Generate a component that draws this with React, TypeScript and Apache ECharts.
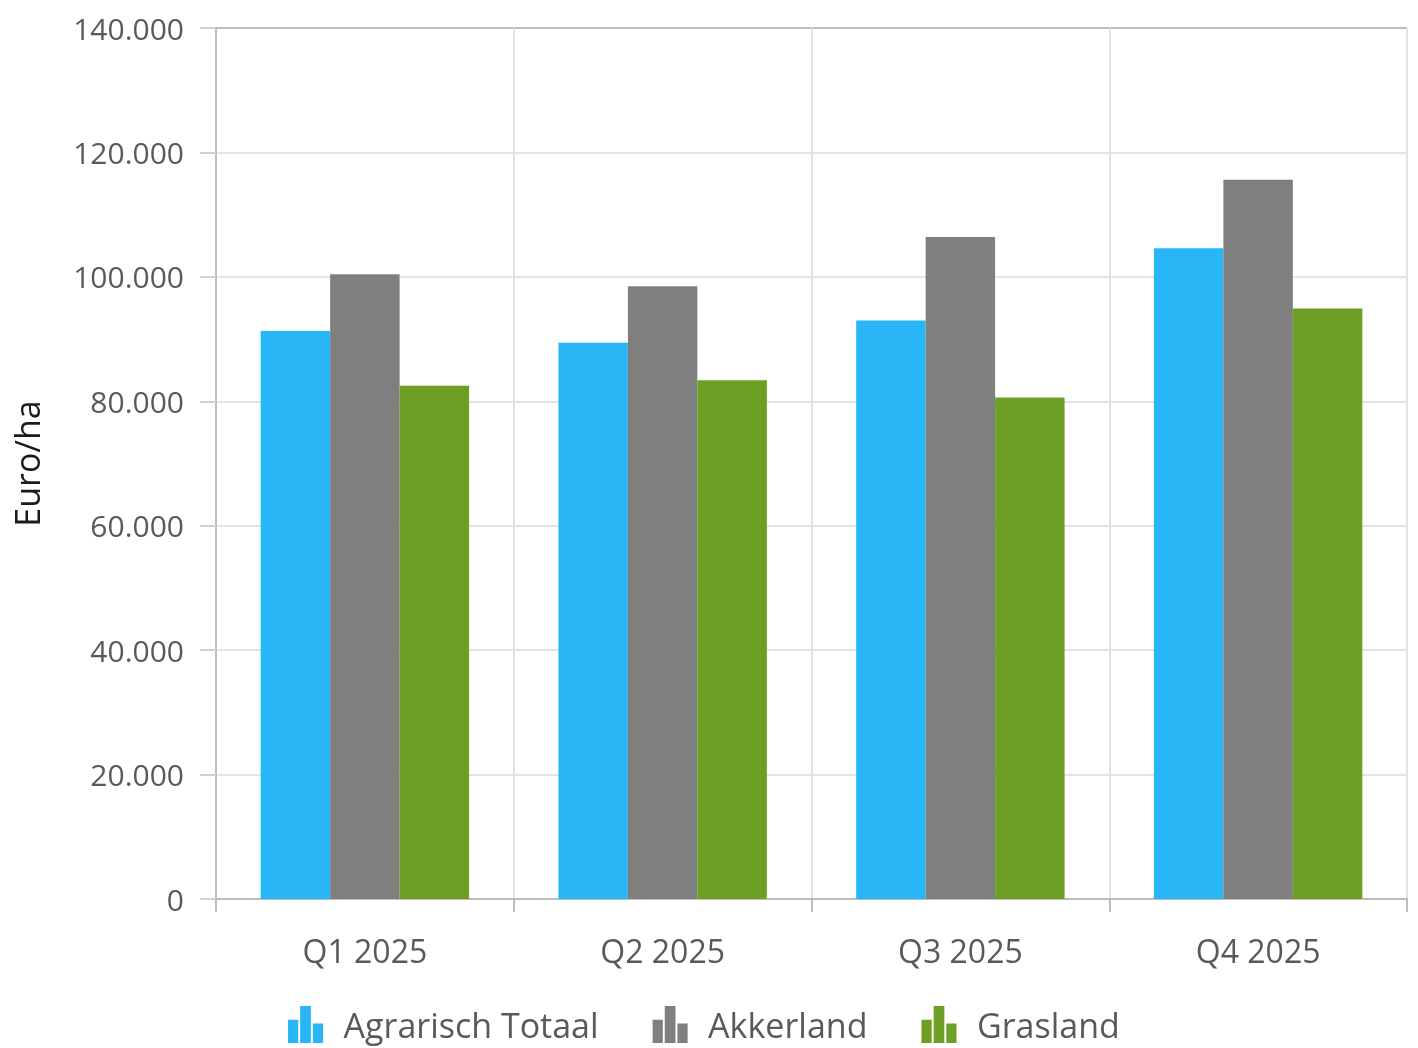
import React, { useEffect, useRef } from "react";
import * as echarts from "echarts";

const categories = ["Q1 2025", "Q2 2025", "Q3 2025", "Q4 2025"];
const seriesNames = ["Agrarisch Totaal", "Akkerland", "Grasland"];
const agrarischTotaal = [91300, 89400, 93000, 104600];
const akkerland = [100400, 98500, 106400, 115600];
const grasland = [82500, 83400, 80600, 94900];
const colors = ["#29B6F6", "#7F7F7F", "#6C9F23"];

const fmt = (v: number) => String(Math.round(v)).replace(/\B(?=(\d{3})+(?!\d))/g, ".");

const icon = "path://M0,14h10.5v24h-10.5z M12.5,0h11v38h-11z M25.5,18h10.5v20h-10.5z";

export default function App() {
  const ref = useRef<HTMLDivElement>(null);
  useEffect(() => {
    if (!ref.current) return;
    const chart = echarts.init(ref.current, null, { renderer: "svg" });
    const font = "'Open Sans', 'Noto Sans', sans-serif";
    const data = [agrarischTotaal, akkerland, grasland];
    chart.setOption({
      animation: false,
      textStyle: { fontFamily: font },
      grid: { left: 216, right: 11, top: 28, bottom: 149, containLabel: false, outerBoundsMode: "none" },
      legend: {
        left: 283,
        bottom: 0,
        itemWidth: 36,
        itemHeight: 37,
        itemGap: 54,
        icon,
        textStyle: { fontSize: 34, color: "#595959", fontFamily: font, padding: [0, 0, 0, 15] },
        data: seriesNames,
      },
      xAxis: {
        type: "category",
        data: categories,
        axisLine: { lineStyle: { color: "#bdbdbd", width: 2 } },
        axisTick: { show: true, length: 13, lineStyle: { color: "#bdbdbd", width: 2 } },
        axisLabel: { fontSize: 32, color: "#595959", margin: 35, fontFamily: font },
        splitLine: { show: true, lineStyle: { color: "#e3e3e3", width: 2 } },
      },
      yAxis: {
        type: "value",
        min: 0,
        max: 140000,
        interval: 20000,
        name: "Euro/ha",
        nameLocation: "middle",
        nameGap: 172,
        nameTextStyle: { fontSize: 34, color: "#1a1a1a", fontFamily: font },
        axisLine: { show: true, lineStyle: { color: "#bdbdbd", width: 2 } },
        axisTick: { show: true, length: 16, lineStyle: { color: "#d0d0d0", width: 2 } },
        axisLabel: { fontSize: 30, color: "#595959", margin: 32, formatter: fmt, fontFamily: font },
        splitLine: {
          show: true,
          lineStyle: {
            color: ["#e3e3e3", "#e3e3e3", "#e3e3e3", "#e3e3e3", "#e3e3e3", "#e3e3e3", "#e3e3e3", "#bdbdbd"],
            width: 2,
          },
        },
      },
      series: seriesNames.map((name, i) => ({
        name,
        type: "bar",
        data: data[i],
        barGap: "0%",
        barCategoryGap: "30%",
        itemStyle: { color: colors[i] },
      })),
    });
    return () => chart.dispose();
  }, []);
  return <div ref={ref} style={{ position: "fixed", left: 0, top: 0, width: 1418, height: 1048 }} />;
}
